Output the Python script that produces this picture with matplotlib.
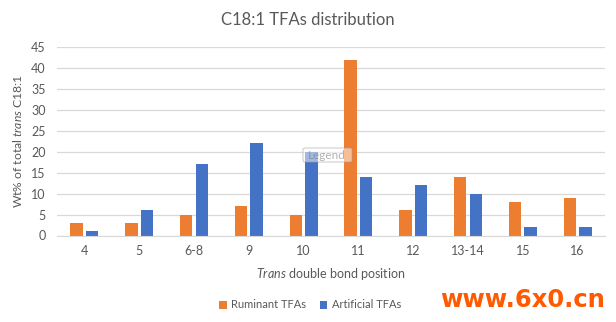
import numpy as np
import matplotlib
matplotlib.use('Agg')
import matplotlib.pyplot as plt
from matplotlib.patches import FancyBboxPatch

plt.rcParams['font.family'] = ['Lato', 'DejaVu Sans']
plt.rcParams['mathtext.fontset'] = 'custom'
plt.rcParams['mathtext.rm'] = 'Lato'
plt.rcParams['mathtext.it'] = 'Lato:italic'

# bond positions and wt% of total trans C18:1
positions = ['4', '5', '6-8', '9', '10', '11', '12', '13-14', '15', '16']
ruminant = [3, 3, 5, 7, 5, 42, 6, 14, 8, 9]
artificial = [1, 6, 17, 22, 20, 14, 12, 10, 2, 2]

orange = '#ED7D31'
blue = '#4472C4'
grey_txt = '#595959'

fig = plt.figure(figsize=(6.16, 3.22), dpi=100)
ax = fig.add_axes([57 / 616, 1 - 235.5 / 322, 548 / 616, 188.5 / 322])

x = np.arange(len(positions))
w = 0.225
ax.bar(x - 0.142, ruminant, w, color=orange, label='Ruminant TFAs', zorder=2)
ax.bar(x + 0.142, artificial, w, color=blue, label='Artificial TFAs', zorder=2)

ax.set_xlim(-0.5, len(positions) - 0.5)
ax.set_ylim(0, 45)
ax.set_yticks(range(0, 46, 5))
ax.set_xticks(x)
ax.set_xticklabels(positions)
ax.yaxis.grid(True, color='#D9D9D9', linewidth=0.9, zorder=0)
for s in ['top', 'right', 'left']:
    ax.spines[s].set_visible(False)
ax.spines['bottom'].set_color('#D9D9D9')
ax.tick_params(axis='both', length=0, colors=grey_txt, labelsize=9)
ax.tick_params(axis='x', pad=7)
ax.tick_params(axis='y', pad=8)

ax.set_ylabel(r'Wt% of total $\mathit{trans}$ C18:1', color=grey_txt, fontsize=8.7, labelpad=5)
ax.set_xlabel(r'$\mathit{Trans}$ double bond position', color=grey_txt, fontsize=9, labelpad=6)
fig.text(0.5, 1 - 20 / 322, 'C18:1 TFAs distribution', ha='center', va='center',
         color=grey_txt, fontsize=12)

fig.legend(loc='center', bbox_to_anchor=(310 / 616, 1 - 305 / 322), ncol=2, frameon=False,
           fontsize=8, labelcolor=grey_txt, handlelength=0.7, handleheight=0.7,
           handletextpad=0.4, columnspacing=1.2)

# hover tag left over on the chart
tag = FancyBboxPatch((303 / 616, 1 - 162 / 322), 49 / 616, 14 / 322,
                     boxstyle='round,pad=0,rounding_size=0.004', transform=fig.transFigure,
                     facecolor='white', alpha=0.5, edgecolor='#A0A0A0', linewidth=0.8, zorder=5)
fig.add_artist(tag)
fig.text(327 / 616, 1 - 155 / 322, 'Legend', ha='center', va='center', color='#808080',
         alpha=0.6, fontsize=8.5, zorder=6)

fig.text(523 / 616, 1 - 300 / 322, 'www.6x0.cn', ha='center', va='center', color='#FF5A00',
         fontsize=17.5, fontweight='heavy', family='DejaVu Sans')

fig.savefig('out.png', dpi=100, facecolor='white')
